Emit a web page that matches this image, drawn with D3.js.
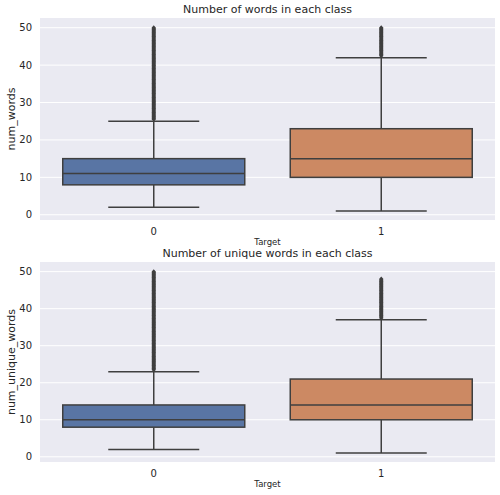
<!DOCTYPE html>
<html><head><meta charset="utf-8">
<script src="https://cdn.jsdelivr.net/npm/d3@7"></script>
<style>body{margin:0;background:#fff;font-family:"DejaVu Sans",sans-serif;}</style>
</head><body><svg id="c" width="500" height="495"></svg>
<script>
const categories = ['0', '1'];
const yTicks = [0, 10, 20, 30, 40, 50];
const colors = ['#5975a4', '#cc8963'];

// [whiskerLow, q1, median, q3, whiskerHigh]
const wordsStats = [[2, 8, 11, 15, 25], [1, 10, 15, 23, 42]];
const wordsFliers = [d3.range(25.5, 50.25, 0.25), d3.range(42.5, 50.25, 0.25)];
const uniqueStats = [[2, 8, 10, 14, 23], [1, 10, 14, 21, 37]];
const uniqueFliers = [d3.range(23.5, 50.25, 0.25), d3.range(37.5, 48.25, 0.25)];

const svg = d3.select('#c');

function panel(top, bottom, title, ylabel, stats, fliers) {
    const left = 40, right = 495;
    const x = d3.scaleBand().domain(categories).range([left, right]);
    const y = d3.scaleLinear().domain([-1.4, 52.6]).range([bottom, top]);
    const g = svg.append('g');
    g.append('rect').attr('x', left).attr('y', top).attr('width', right - left)
        .attr('height', bottom - top).attr('fill', '#eaeaf2');
    g.selectAll('.grid').data(yTicks).enter().append('line')
        .attr('x1', left).attr('x2', right).attr('y1', d => y(d)).attr('y2', d => y(d))
        .attr('stroke', '#fff').attr('stroke-width', 1);
    g.selectAll('.yt').data(yTicks).enter().append('text')
        .attr('x', left - 8).attr('y', d => y(d)).attr('dy', '0.35em')
        .attr('text-anchor', 'end').attr('font-size', 10).attr('fill', '#262626').text(d => d);
    g.selectAll('.xt').data(categories).enter().append('text')
        .attr('x', d => x(d) + x.bandwidth() / 2).attr('y', bottom + 15)
        .attr('text-anchor', 'middle').attr('font-size', 10).attr('fill', '#262626').text(d => d);
    g.append('text').attr('x', (left + right) / 2).attr('y', top - 5)
        .attr('text-anchor', 'middle').attr('font-size', 11).attr('fill', '#262626').text(title);
    g.append('text').attr('x', (left + right) / 2).attr('y', bottom + 25)
        .attr('text-anchor', 'middle').attr('font-size', 8.5).attr('fill', '#262626').text('Target');
    g.append('text').attr('transform', `translate(15,${(top + bottom) / 2}) rotate(-90)`)
        .attr('text-anchor', 'middle').attr('font-size', 11).attr('fill', '#262626').text(ylabel);

    categories.forEach((c, i) => {
        const [lo, q1, med, q3, hi] = stats[i];
        const cx = x(c) + x.bandwidth() / 2;
        const bw = x.bandwidth() * 0.8;
        const line = '#3f3f3f';
        g.append('line').attr('x1', cx).attr('x2', cx).attr('y1', y(q3)).attr('y2', y(hi)).attr('stroke', line).attr('stroke-width', 1.5);
        g.append('line').attr('x1', cx).attr('x2', cx).attr('y1', y(q1)).attr('y2', y(lo)).attr('stroke', line).attr('stroke-width', 1.5);
        g.append('line').attr('x1', cx - bw / 4).attr('x2', cx + bw / 4).attr('y1', y(hi)).attr('y2', y(hi)).attr('stroke', line).attr('stroke-width', 1.5);
        g.append('line').attr('x1', cx - bw / 4).attr('x2', cx + bw / 4).attr('y1', y(lo)).attr('y2', y(lo)).attr('stroke', line).attr('stroke-width', 1.5);
        g.append('rect').attr('x', cx - bw / 2).attr('width', bw).attr('y', y(q3)).attr('height', y(q1) - y(q3))
            .attr('fill', colors[i]).attr('stroke', line).attr('stroke-width', 1.5);
        g.append('line').attr('x1', cx - bw / 2).attr('x2', cx + bw / 2).attr('y1', y(med)).attr('y2', y(med)).attr('stroke', line).attr('stroke-width', 1.5);
        g.selectAll(null).data(fliers[i]).enter().append('path')
            .attr('d', d => `M${cx},${y(d) - 2.5}L${cx + 2.2},${y(d)}L${cx},${y(d) + 2.5}L${cx - 2.2},${y(d)}Z`)
            .attr('fill', line);
    });
}

panel(18, 220, 'Number of words in each class', 'num_words', wordsStats, wordsFliers);
panel(262, 462, 'Number of unique words in each class', 'num_unique_words', uniqueStats, uniqueFliers);
</script></body></html>
